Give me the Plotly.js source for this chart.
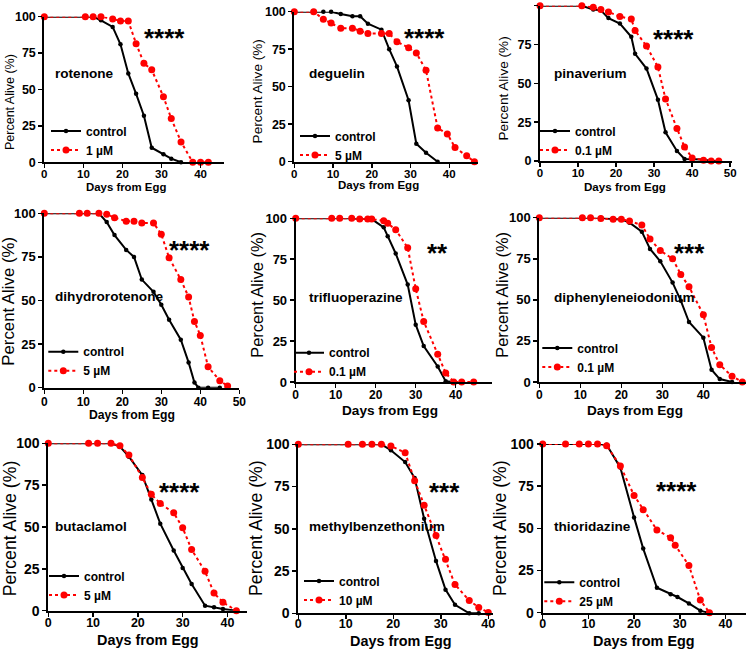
<!DOCTYPE html>
<html>
<head>
<meta charset="utf-8">
<script src="https://cdn.plot.ly/plotly-3.0.1.min.js"></script>
<style>html,body{margin:0;padding:0;background:#fff;}#chart{width:746px;height:650px;}</style>
</head>
<body>
<div id="chart"></div>
<script>
// ---------------- DATA ----------------
const drugNames = ["rotenone","deguelin","pinaverium","dihydrorotenone","trifluoperazine","diphenyleneiodonium","butaclamol","methylbenzethonium","thioridazine"];
const doseLabels = ["1 µM","5 µM","0.1 µM","5 µM","0.1 µM","0.1 µM","5 µM","10 µM","25 µM"];
const significance = ["****","****","****","****","**","***","****","***","****"];
const xTickValues = [0,10,20,30,40,50];
const yTickValues = [0,25,50,75,100];

// rotenone
const rotenoneCtrlDays = [0,10.5,12.5,14.5,17.5,19.5,21.5,23.5,25.5,27.5,30.5,32.5,35];
const rotenoneCtrlAlive = [100,100,100,97.5,93,81,61,47,32,10,5.5,2.5,0];
const rotenoneDrugDays = [0,10.5,12.5,14.5,17.5,19.5,21.5,23.5,25.5,27.5,30.5,32.5,35,38,40,42];
const rotenoneDrugAlive = [100,100,100,100,98.5,97,97,81.5,68,63.5,45,30,14,0,0,0];
// deguelin
const deguelinCtrlDays = [0,5,7.5,9.5,12,15,17,19,22.5,24.5,26.5,29.5,31.5,34,37];
const deguelinCtrlAlive = [100,100,100,100,98.5,97,97,92,88,75,63.5,41,12,6,0];
const deguelinDrugDays = [0,5,7.5,9.5,12,15,17,19,22.5,24.5,26.5,29.5,31.5,34,37,39.5,41.5,44.5,46.5];
const deguelinDrugAlive = [100,100,95,92.5,89,89,87,85.5,85.5,85.5,80,76,72.5,61,22.5,18.5,9.5,4,0];
// pinaverium
const pinaveriumCtrlDays = [0,11,14,16,18,21,24,25,28,31,33,36,38,40,43,45,47];
const pinaveriumCtrlAlive = [100,100,97.5,97,92,88.5,80,69,59.5,39.5,18.5,6.5,1.3,1,1,0,0];
const pinaveriumDrugDays = [0,11,14,16,18,21,24,25,28,31,33,36,38,40,43,45,47];
const pinaveriumDrugAlive = [100,100,99,97.5,96,93,91.5,84,74,60.5,40,21,9,2,0.5,0,0];
// dihydrorotenone
const dihydroCtrlDays = [0,9,11,14,16,18,21,23,25,28,30,32,35,37,38.5,39.5,42,45];
const dihydroCtrlAlive = [100,100,100,100,95,87.5,79,75,62,55,47.5,39,27.5,14.5,3,0,0,0];
const dihydroDrugDays = [0,9,11,14,16,18,21,23,25,28,30,32,35,37,38.5,40,42,45,47];
const dihydroDrugAlive = [100,100,100,100,99.5,97.5,95.5,95.5,94.5,94.5,88,74.5,62,52,38,30,12,4,1];
// trifluoperazine
const trifluoCtrlDays = [0,9,11,14,16,18,19,22,23,25,28,30,32,35.5,37.5,39.5];
const trifluoCtrlAlive = [100,100,100,100,99.5,99.5,99.5,94.5,89,78.5,59.5,35,22,9.5,0.5,0];
const trifluoDrugDays = [0,9,11,14,16,18,19,22,23,25,28,30,32,35.5,37.5,39.5,41.5,44.5];
const trifluoDrugAlive = [100,100,100,100,99.5,99.5,99.5,98.5,97,93,82,57,37,17,5.5,0,0,0];
// diphenyleneiodonium
const dpiCtrlDays = [0,10.5,12.5,15,18,20,22,25,27,29.5,32.5,34.5,36.5,40,42,44,47];
const dpiCtrlAlive = [100,100,100,100,99,99,97,91.5,81,73.5,60.5,49.5,36.5,27,7.5,1.8,0];
const dpiDrugDays = [0,10.5,12.5,15,18,20,22,25,27,29.5,32.5,34.5,36.5,40,42,44,47,49.5];
const dpiDrugAlive = [100,100,100,99.5,99,99,98,95.5,87,80,75,65.5,58,41,21,10.5,3.5,0];
// butaclamol
const butaCtrlDays = [0,9,11,14,16,18,21,23,25,28,30,32,35,37,39,42];
const butaCtrlAlive = [100,100,100,100,98,92,81,66.5,52,36,25.5,16,3,2,1,0];
const butaDrugDays = [0,9,11,14,16,18,21,23,25,28,30,32,35,37,39,42];
const butaDrugAlive = [100,100,100,100,98.5,93,79.5,69.5,64,58.5,49.5,36.5,23.5,10.5,5,0];
// methylbenzethonium
const mbzCtrlDays = [0,10.5,13.5,15.5,17.5,19.5,22.5,24.5,26.5,29,31,33,36,38];
const mbzCtrlAlive = [100,100,100,100,100,96.5,89.5,80,56,31,14,5,0,0];
const mbzDrugDays = [0,10.5,13.5,15.5,17.5,19.5,22.5,24.5,26.5,29,31,33,36,38,40];
const mbzDrugAlive = [100,100,100,100,100,99,95,78.5,64,46,32,17,7.5,3.5,0.5];
// thioridazine
const thioCtrlDays = [0,5,8,10,12,14,17,20,22,25,28,29.5,32,34.5,36];
const thioCtrlAlive = [100,100,100,100,100,99.5,86,56.5,38,14.8,10.9,9.3,5.5,1.2,0];
const thioDrugDays = [0,5,8,10,12,14,17,20,22,25,28,29,32,34.5,36.5];
const thioDrugAlive = [100,100,100,100,100,99,87,69.5,61,49,44.5,40,28,7.5,0];

const series = [
  [rotenoneCtrlDays, rotenoneCtrlAlive, rotenoneDrugDays, rotenoneDrugAlive],
  [deguelinCtrlDays, deguelinCtrlAlive, deguelinDrugDays, deguelinDrugAlive],
  [pinaveriumCtrlDays, pinaveriumCtrlAlive, pinaveriumDrugDays, pinaveriumDrugAlive],
  [dihydroCtrlDays, dihydroCtrlAlive, dihydroDrugDays, dihydroDrugAlive],
  [trifluoCtrlDays, trifluoCtrlAlive, trifluoDrugDays, trifluoDrugAlive],
  [dpiCtrlDays, dpiCtrlAlive, dpiDrugDays, dpiDrugAlive],
  [butaCtrlDays, butaCtrlAlive, butaDrugDays, butaDrugAlive],
  [mbzCtrlDays, mbzCtrlAlive, mbzDrugDays, mbzDrugAlive],
  [thioCtrlDays, thioCtrlAlive, thioDrugDays, thioDrugAlive]
];

// ---------------- LAYOUT (pixel geometry of each panel) ----------------
const W = 746, H = 650;
const geom = [
  {x0:44.3, x1:224,   xmax:46,   yT:16.7,  yB:162.3, ytF:12.5,ytX:10,  ytY:102,  xtX:126,  xtY:186.5,xtF:11.4, nameX:53,   nameY:73,   starX:141.7,starY:31,  legX:76,   legMid:140,   tick:12.5, xtick:11.5, xso:-4, maxTick:40},
  {x0:294.3,x1:478.3, xmax:47.5, yT:11.7,  yB:161.7, ytF:13.6,ytX:257.7,ytY:91.7, xtX:378.3,xtY:185,  xtF:11.5, nameX:306.7,nameY:73.3, starX:402.3,starY:31.3,legX:325,  legMid:145,   tick:12.5, xtick:11.5, xso:-4, maxTick:40},
  {x0:540,  x1:731.7, xmax:50.4, yT:5.7,   yB:161,   ytF:13.6,ytX:503.3,ytY:88.3, xtX:625,  xtY:186.5,xtF:11.6, nameX:551.7,nameY:74,   starX:651,  starY:32,  legX:565,  legMid:140,   tick:12.5, xtick:11.5, xso:-4, maxTick:50},
  {x0:44.3, x1:239.3, xmax:50,   yT:213.3, yB:387.7, ytF:16.8,ytX:9,    ytY:301.7,xtX:132.2,xtY:415,  xtF:12.2, nameX:53.3, nameY:296.7,starX:166.7,starY:243, legX:73.3, legMid:360.7, tick:13,   xtick:12,   xso:-2, maxTick:50},
  {x0:295.7,x1:491.7, xmax:49,   yT:218.3, yB:382,   ytF:16.4,ytX:256.7,ytY:295,  xtX:390.3,xtY:410,  xtF:13.6, nameX:307.3,nameY:297.7,starX:425,  starY:246.3,legX:319,  legMid:361.7, tick:13,   xtick:12,   xso:-3, maxTick:40},
  {x0:539.3,x1:746,   xmax:50.4, yT:217.7, yB:382,   ytF:16.4,ytX:501.7,ytY:295,  xtX:635.3,xtY:410,  xtF:13.6, nameX:551.7,nameY:297.3,starX:671.7,starY:246.3,legX:567.3,legMid:357,   tick:13,   xtick:12,   xso:-3, maxTick:40},
  {x0:48.3, x1:246.7, xmax:44.3, yT:443.3, yB:610.7, ytF:17.7,ytX:10,   ytY:528.3,xtX:148,  xtY:640,  xtF:14.4, nameX:53.3, nameY:526.7,starX:156.7,starY:484.7,legX:74,   legMid:585,   tick:14,   xtick:12.5, xso:-5, maxTick:40},
  {x0:298.3,x1:493,   xmax:41,   yT:444.3, yB:613.3, ytF:17.7,ytX:256.7,ytY:528.3,xtX:400.8,xtY:640.5,xtF:14.4, nameX:306.7,nameY:526,  starX:426.7,starY:484.7,legX:329,  legMid:590,   tick:14,   xtick:12.5, xso:-6, maxTick:40},
  {x0:542.7,x1:746,   xmax:44.5, yT:444,   yB:612.7, ytF:17.7,ytX:500,  ytY:528,  xtX:644.2,xtY:640.5,xtF:14.4, nameX:552.3,nameY:526,  starX:654.3,starY:484,  legX:569.3,legMid:591.3, tick:14,   xtick:12.5, xso:-6, maxTick:40}
];

const FONT = "Arial, 'Liberation Sans', sans-serif";
const px = v => v / W;
const py = v => 1 - v / H;

const data = [];
const layout = {
  width: W, height: H,
  margin: {l:0, r:0, t:0, b:0, pad:0},
  paper_bgcolor: '#ffffff',
  plot_bgcolor: 'rgba(0,0,0,0)',
  font: {family: FONT, color: '#000'},
  annotations: [],
  showlegend: true
};

geom.forEach((g, i) => {
  const n = i + 1;
  const suf = n === 1 ? '' : String(n);
  const xa = 'xaxis' + suf, ya = 'yaxis' + suf;
  const xr = 'x' + suf, yr = 'y' + suf;
  const lg = 'legend' + suf;
  const s = series[i];

  data.push({
    x: s[0], y: s[1], xaxis: xr, yaxis: yr, legend: lg,
    name: 'control', type: 'scatter', mode: 'lines+markers', cliponaxis: false,
    line: {color: '#000000', width: 2},
    marker: {color: '#000000', size: 4.5, symbol: 'circle'}
  });
  data.push({
    x: s[2], y: s[3], xaxis: xr, yaxis: yr, legend: lg,
    name: doseLabels[i], type: 'scatter', mode: 'lines+markers', cliponaxis: false,
    line: {color: '#ff0000', width: 2, dash: 'dot'},
    marker: {color: '#ff0000', size: 7, symbol: 'circle'}
  });

  const tv = xTickValues.filter(v => v <= g.maxTick);
  layout[xa] = {
    domain: [px(g.x0), px(g.x1)], range: [0, g.xmax], anchor: yr,
    showgrid: false, zeroline: false, showline: true, linecolor: '#000', linewidth: 2,
    ticks: 'outside', ticklen: 4, tickwidth: 1.5, tickcolor: '#000',
    tickmode: 'array', tickvals: tv, ticktext: tv.map(String),
    ticklabelstandoff: g.xso,
    tickfont: {family: FONT, size: g.xtick, color: '#000', weight: 'bold'},
    fixedrange: true
  };
  layout[ya] = {
    domain: [py(g.yB), py(g.yT)], range: [0, 100], anchor: xr,
    showgrid: false, zeroline: false, showline: true, linecolor: '#000', linewidth: 2,
    ticks: 'outside', ticklen: 4, tickwidth: 1.5, tickcolor: '#000',
    tickmode: 'array', tickvals: yTickValues,
    tickfont: {family: FONT, size: g.tick, color: '#000', weight: 'bold'},
    fixedrange: true
  };
  layout[lg] = {
    x: px(g.legX - 30), y: py(g.legMid - 23.5), xanchor: 'left', yanchor: 'top',
    xref: 'paper', yref: 'paper',
    bgcolor: 'rgba(0,0,0,0)', borderwidth: 0,
    font: {family: FONT, size: 12, color: '#000', weight: 'bold'},
    itemwidth: 30, tracegroupgap: 0, traceorder: 'normal'
  };

  // axis titles
  layout.annotations.push({
    xref: 'paper', yref: 'paper', x: px(g.ytX), y: py(g.ytY),
    xanchor: 'center', yanchor: 'middle', textangle: -90, showarrow: false,
    text: 'Percent Alive (%)', font: {family: FONT, size: g.ytF, color: '#000'}
  });
  layout.annotations.push({
    xref: 'paper', yref: 'paper', x: px(g.xtX), y: py(g.xtY),
    xanchor: 'center', yanchor: 'middle', showarrow: false,
    text: 'Days from Egg', font: {family: FONT, size: g.xtF, color: '#000', weight: 'bold'}
  });
  // drug name
  layout.annotations.push({
    xref: 'paper', yref: 'paper', x: px(g.nameX), y: py(g.nameY),
    xanchor: 'left', yanchor: 'middle', showarrow: false,
    text: drugNames[i], font: {family: FONT, size: 13.6, color: '#000', weight: 'bold'}
  });
  // significance stars
  layout.annotations.push({
    xref: 'paper', yref: 'paper', x: px(g.starX), y: py(g.starY + 7),
    xanchor: 'left', yanchor: 'middle', showarrow: false,
    text: significance[i], font: {family: FONT, size: 26, color: '#000', weight: 'bold'}
  });
});

Plotly.newPlot('chart', data, layout, {displayModeBar: false, staticPlot: true});
</script>
</body>
</html>
